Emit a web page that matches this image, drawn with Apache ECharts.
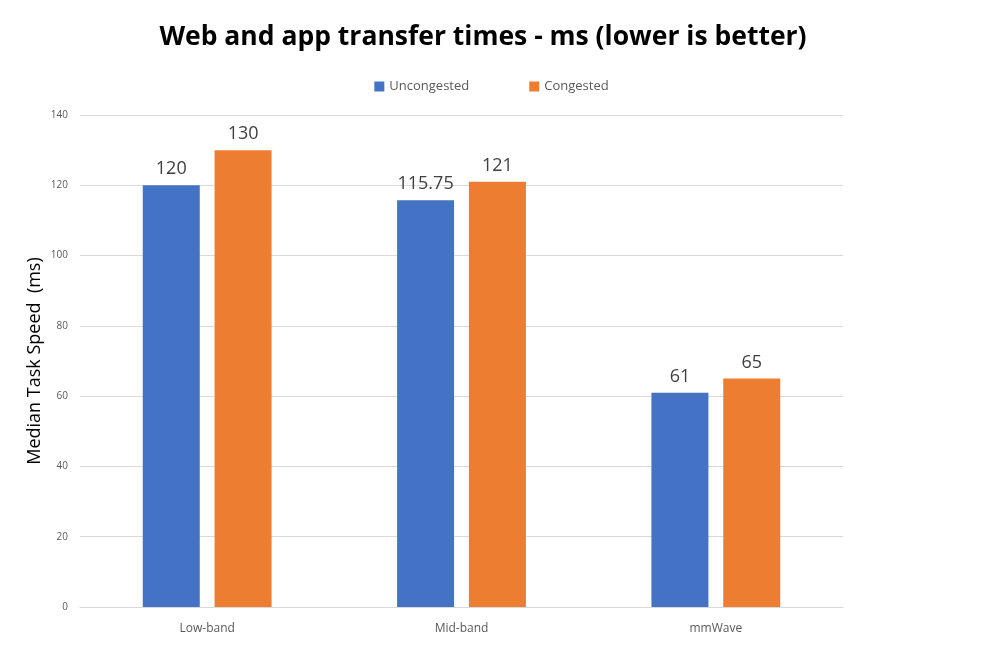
<!DOCTYPE html>
<html><head><meta charset="utf-8">
<script src="https://cdn.jsdelivr.net/npm/echarts@6/dist/echarts.min.js"></script>
<style>html,body{margin:0;padding:0;background:#fff}#c{width:983px;height:645px}</style>
</head><body><div id="c"></div>
<script>
const categories = ["Low-band", "Mid-band", "mmWave"];
const uncongested = [120, 115.75, 61];
const congested = [130, 121, 65];
const seriesNames = ["Uncongested", "Congested"];
const yTicks = { min: 0, max: 140, interval: 20 };

const chart = echarts.init(document.getElementById('c'), null, {renderer: 'canvas'});
const font = '"Open Sans", "Liberation Sans", sans-serif';
const lbl = {show: true, position: 'top', distance: 7, fontSize: 18, color: '#404040', fontFamily: font};
chart.setOption({
  animation: false,
  title: {text: 'Web and app transfer times - ms (lower is better)', left: 478, top: 19, textAlign: 'center',
    textStyle: {fontSize: 26.5, fontWeight: 'bold', color: '#000', fontFamily: font}},
  legend: {data: seriesNames, top: 75, left: 'center', itemWidth: 10, itemHeight: 10, itemGap: 60, icon: 'rect',
    textStyle: {fontSize: 13, color: '#595959', fontFamily: font}},
  grid: {left: 80, right: 140, top: 115, bottom: 38, containLabel: false},
  xAxis: {type: 'category', data: categories,
    axisLine: {lineStyle: {color: '#d9d9d9'}}, axisTick: {show: false},
    axisLabel: {fontSize: 12, color: '#595959', margin: 16, fontFamily: font}},
  yAxis: {type: 'value', min: yTicks.min, max: yTicks.max, interval: yTicks.interval,
    name: 'Median Task Speed  (ms)', nameLocation: 'middle', nameGap: 36, nameMoveOverlap: false,
    nameTextStyle: {fontSize: 18, color: '#000', fontFamily: font},
    axisLine: {show: false}, axisTick: {show: false},
    axisLabel: {fontSize: 10, color: '#595959', margin: 12, fontFamily: font},
    splitLine: {lineStyle: {color: '#d9d9d9'}}},
  series: [
    {name: seriesNames[0], type: 'bar', data: uncongested, barWidth: 57, barGap: '26%', itemStyle: {color: '#4472C4'}, label: lbl},
    {name: seriesNames[1], type: 'bar', data: congested, barWidth: 57, itemStyle: {color: '#ED7D31'}, label: lbl}
  ]
});
</script></body></html>
